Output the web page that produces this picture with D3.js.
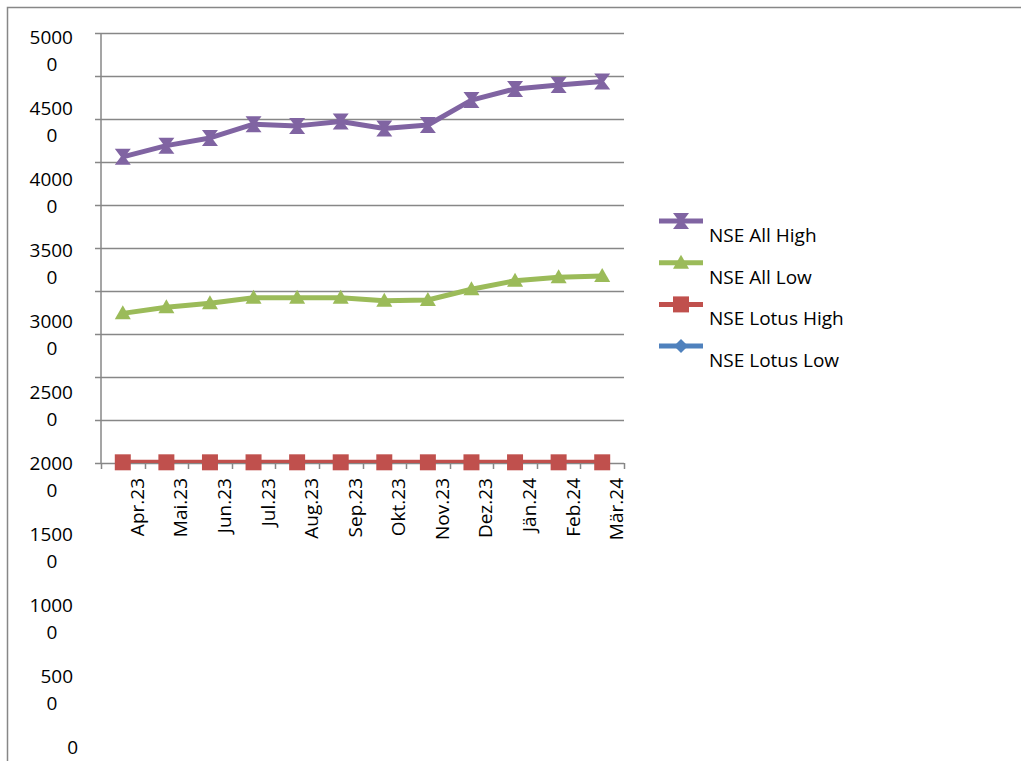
<!DOCTYPE html>
<html><head><meta charset="utf-8">
<script src="https://cdn.jsdelivr.net/npm/d3@7"></script>
<style>html,body{margin:0;padding:0;background:#fff;overflow:hidden}svg{display:block}</style>
</head><body>
<svg id="c" width="1021" height="761"></svg>
<script>
const categories = ["Apr.23","Mai.23","Jun.23","Jul.23","Aug.23","Sep.23","Okt.23","Nov.23","Dez.23","Jän.24","Feb.24","Mär.24"];
const nseAllHigh = [35600,36900,37800,39400,39200,39700,38900,39300,42200,43500,43950,44350];
const nseAllLow = [17400,18100,18570,19220,19220,19220,18870,18950,20200,21200,21600,21750];
const nseLotusHigh = [80,80,80,80,80,80,80,80,80,80,80,80];
const nseLotusLow = [null,null,null,null,null,null,null,null,null,null,null,null];
const yTicks = [50000,45000,40000,35000,30000,25000,20000,15000,10000,5000,0];
const seriesNames = ["NSE All High","NSE All Low","NSE Lotus High","NSE Lotus Low"];

const colors = ["#8064A2","#9BBB59","#C0504D","#4F81BD"];
const font = "'Open Sans', 'Liberation Sans', sans-serif";
const svg = d3.select("#c");
const L = 101, R = 624, T = 33, B = 463;
const x = d3.scaleBand().domain(categories).range([L, R]);
const y = d3.scaleLinear().domain([0, 50000]).range([B, T]);
const labelY = d3.scaleLinear().domain([50000, 0]).range([44, 754]);
const grey = "#878787";

// outer border
svg.append("path").attr("d", "M7.5,770 L7.5,7.5 L1030,7.5").attr("fill","none").attr("stroke",grey).attr("stroke-width",1.5);

// gridlines
svg.append("g").selectAll("line").data(yTicks).join("line")
  .attr("x1", L).attr("x2", R).attr("y1", d => Math.round(y(d))+0.5).attr("y2", d => Math.round(y(d))+0.5)
  .attr("stroke", grey).attr("stroke-width", 1.5);
// y tick marks
svg.append("g").selectAll("line").data(yTicks).join("line")
  .attr("x1", L-6).attr("x2", L).attr("y1", d => Math.round(y(d))+0.5).attr("y2", d => Math.round(y(d))+0.5)
  .attr("stroke", grey).attr("stroke-width", 1.5);
// y axis line
svg.append("line").attr("x1", L).attr("x2", L).attr("y1", T).attr("y2", B).attr("stroke", grey).attr("stroke-width", 1.5);
// x axis ticks at boundaries
const bounds = categories.map(c => x(c)).concat([R]);
svg.append("g").selectAll("line").data(bounds).join("line")
  .attr("x1", d => Math.round(d)+0.5).attr("x2", d => Math.round(d)+0.5).attr("y1", B).attr("y2", B+6)
  .attr("stroke", grey).attr("stroke-width", 1.5);

// y labels (wrapped like the reference)
const yl = svg.append("g").attr("font-family", font).attr("font-size", 19).attr("fill", "#000");
yTicks.forEach(v => {
  const s = String(v);
  if (s.length > 1) {
    yl.append("text").attr("x", 73).attr("y", labelY(v)).attr("text-anchor","end").text(s.slice(0, -1));
    yl.append("text").attr("x", 52).attr("y", labelY(v) + 27).attr("text-anchor","middle").text(s.slice(-1));
  } else {
    yl.append("text").attr("x", 78).attr("y", labelY(v)).attr("text-anchor","end").text(s);
  }
});

// x labels rotated
svg.append("g").selectAll("text").data(categories).join("text")
  .attr("transform", d => `translate(${x(d) + x.bandwidth()/2 + 21},478) rotate(-90)`)
  .attr("text-anchor", "end").attr("font-family", font).attr("font-size", 19).attr("fill", "#000")
  .text(d => d);

// clip for lines
svg.append("clipPath").attr("id","plotclip").append("rect").attr("x", L).attr("y", 0).attr("width", R-L+10).attr("height", B);

const markers = [
  "M-8,-8L8,-8L2,0L8,8L-8,8L-2,0Z",
  "M0,-8L8,6L-8,6Z",
  "M-8,-8L8,-8L8,8L-8,8Z",
  "M0,-7L7,0L0,7L-7,0Z"
];
const allSeries = [nseAllHigh, nseAllLow, nseLotusHigh, nseLotusLow];
const line = d3.line().defined(d => d.v != null).x(d => x(d.c) + x.bandwidth()/2).y(d => y(d.v));
allSeries.forEach((vals, i) => {
  const data = categories.map((c, j) => ({c, v: vals[j]}));
  svg.append("path").datum(data).attr("d", line).attr("fill","none")
    .attr("stroke", colors[i]).attr("stroke-width", 5).attr("stroke-linejoin","round")
    .attr("clip-path","url(#plotclip)");
  svg.append("g").selectAll("path").data(data.filter(d => d.v != null)).join("path")
    .attr("transform", d => `translate(${x(d.c) + x.bandwidth()/2},${y(d.v)})`)
    .attr("d", markers[i]).attr("fill", colors[i]);
});

// legend
const lg = svg.append("g");
seriesNames.forEach((n, i) => {
  const ly = 221 + i * 41.7;
  lg.append("line").attr("x1", 659).attr("x2", 703).attr("y1", ly).attr("y2", ly).attr("stroke", colors[i]).attr("stroke-width", 5);
  lg.append("path").attr("transform", `translate(681,${ly})`).attr("d", markers[i]).attr("fill", colors[i]);
  lg.append("text").attr("x", 709).attr("y", ly + 21).attr("font-family", font).attr("font-size", 19).attr("fill","#000").text(n);
});
</script>
</body></html>
